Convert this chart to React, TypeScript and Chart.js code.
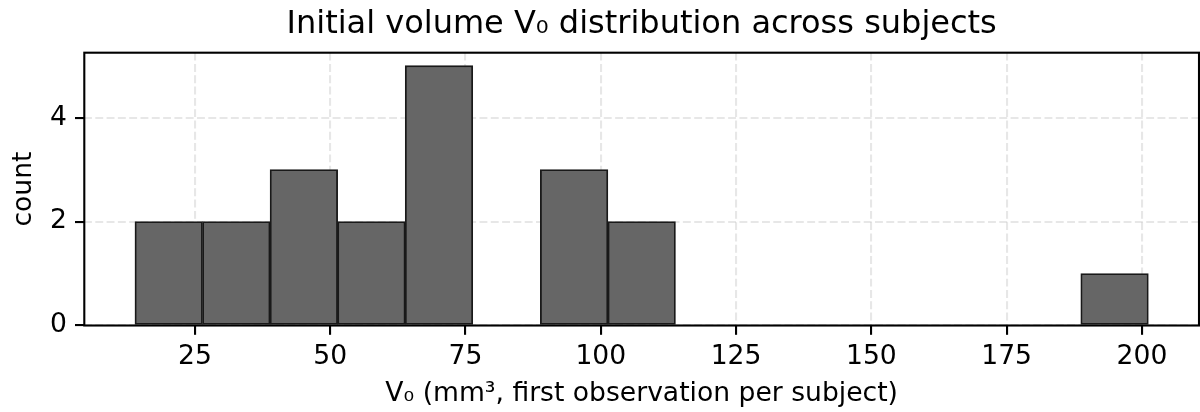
import React, { useEffect, useRef } from "react";
import { Chart, registerables } from "chart.js";

Chart.register(...registerables);

// Histogram bin edges (mm³)
const binEdges = [13.92, 26.4, 38.89, 51.37, 63.86, 76.34, 88.83, 101.31, 113.8, 126.28, 138.76, 151.25, 163.73, 176.22, 188.7, 201.18];
// Subjects per bin
const counts = [2, 2, 3, 2, 5, 0, 3, 2, 0, 0, 0, 0, 0, 0, 1];
const xTicks = [25, 50, 75, 100, 125, 150, 175, 200];
const yTicks = [0, 2, 4];
const titleText = "Initial volume V\u2080 distribution across subjects";
const xTitle = "V\u2080 (mm\u00b3, first observation per subject)";
const yTitle = "count";

const FONT = "'DejaVu Sans', sans-serif";
const LABEL_SIZE = 26.6;
const TITLE_SIZE = 32;

const boxPlugin = {
  id: "boxSpines",
  afterDraw(chart: any) {
    const { ctx, chartArea } = chart;
    ctx.save();
    ctx.strokeStyle = "#000";
    ctx.lineWidth = 2.1;
    ctx.strokeRect(chartArea.left, chartArea.top, chartArea.right - chartArea.left, chartArea.bottom - chartArea.top);
    ctx.restore();
  },
};

export default function App() {
  const ref = useRef<HTMLCanvasElement | null>(null);
  useEffect(() => {
    if (!ref.current) return;
    const centers = counts.map((_, i) => (binEdges[i] + binEdges[i + 1]) / 2);
    const data = counts.map((c, i) => ({ x: centers[i], y: c }));
    const span = binEdges[binEdges.length - 1] - binEdges[0];
    const xMin = binEdges[0] - 0.05 * span;
    const xMax = binEdges[binEdges.length - 1] + 0.05 * span;
    const chart = new Chart(ref.current, {
      type: "bar",
      data: {
        datasets: [
          {
            data: data as any,
            backgroundColor: "rgb(102,102,102)",
            borderColor: "rgb(25,25,25)",
            borderWidth: 1.8,
            borderSkipped: false,
            barThickness: "flex",
            categoryPercentage: 1,
            barPercentage: 1,
          } as any,
        ],
      },
      options: {
        animation: false,
        responsive: false,
        devicePixelRatio: 1,
        layout: { padding: { left: 0, right: 1, top: 0, bottom: 0 } },
        plugins: {
          legend: { display: false },
          tooltip: { enabled: false },
          title: {
            display: true,
            fullSize: false,
            text: titleText,
            color: "#000",
            font: { family: FONT, size: TITLE_SIZE, weight: "normal", lineHeight: 1.2 },
            padding: { top: 5.3, bottom: 9.0 },
          },
        },
        scales: {
          x: {
            type: "linear",
            min: xMin,
            max: xMax,
            offset: false,
            z: 1,
            afterBuildTicks: (s: any) => {
              s.ticks = xTicks.map((v) => ({ value: v }));
            },
            afterFit: (s: any) => {
              s.height = 86.5;
            },
            grid: {
              display: true,
              offset: false,
              color: "rgba(176,176,176,0.3)",
              lineWidth: 2.1,
              drawTicks: true,
              tickLength: 9.3,
              tickColor: "#000",
              tickWidth: 2.1,
            },
            border: { display: false, dash: [7.9, 3.4] },
            ticks: {
              color: "#000",
              font: { family: FONT, size: LABEL_SIZE },
              padding: 6.4,
              maxRotation: 0,
              autoSkip: false,
              callback: (v: any) => String(v),
            },
            title: {
              display: true,
              text: xTitle,
              color: "#000",
              font: { family: FONT, size: LABEL_SIZE, lineHeight: 1.2 },
              padding: { top: 0, bottom: 2.2 },
            },
          } as any,
          y: {
            type: "linear",
            min: 0,
            max: 5.25,
            z: 1,
            afterBuildTicks: (s: any) => {
              s.ticks = yTicks.map((v) => ({ value: v }));
            },
            afterFit: (s: any) => {
              s.width = 84.3;
            },
            grid: {
              display: true,
              color: "rgba(176,176,176,0.3)",
              lineWidth: 2.1,
              drawTicks: true,
              tickLength: 9.3,
              tickColor: "#000",
              tickWidth: 2.1,
            },
            border: { display: false, dash: [7.9, 3.4] },
            ticks: {
              color: "#000",
              font: { family: FONT, size: LABEL_SIZE },
              padding: 8,
              autoSkip: false,
              callback: (v: any) => String(v),
            },
            title: {
              display: true,
              text: yTitle,
              color: "#000",
              font: { family: FONT, size: LABEL_SIZE, lineHeight: 1.2 },
              padding: { top: 8.2, bottom: 0 },
            },
          } as any,
        },
      },
      plugins: [boxPlugin],
    });
    return () => chart.destroy();
  }, []);
  return (
    <div style={{ position: "absolute", left: 0, top: 0, width: 1200, height: 412, background: "#fff" }}>
      <canvas ref={ref} width={1200} height={412} style={{ width: 1200, height: 412, display: "block" }} />
    </div>
  );
}
